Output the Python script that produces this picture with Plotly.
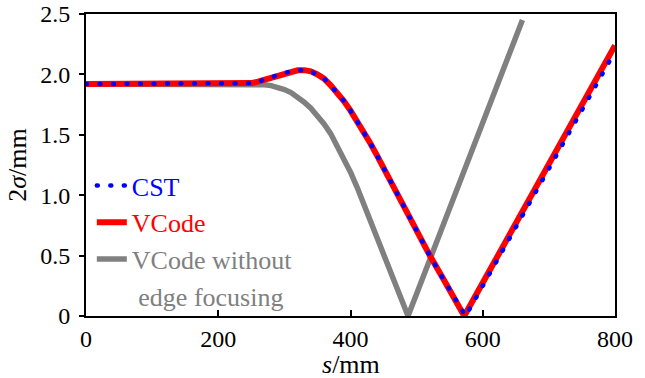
import plotly.graph_objects as go

# ---- data ----
s_vcode = [0, 100, 200, 240, 250, 260, 270, 280, 290, 300, 310, 320, 330, 340, 350, 360, 370, 380, 390,
           400, 410, 420, 430, 440, 450, 460, 470, 480, 500, 520, 540, 560, 572, 600, 700, 800]
v_vcode = [1.92, 1.92, 1.92, 1.922, 1.928, 1.94, 1.955, 1.975, 1.995, 2.012, 2.026, 2.034, 2.035, 2.025, 2.00,
           1.965, 1.91, 1.85, 1.78, 1.70, 1.615, 1.525, 1.43, 1.33, 1.225, 1.115, 1.01, 0.91, 0.70, 0.50,
           0.31, 0.12, 0.0, 0.275, 1.257, 2.24]

s_cst = [0, 100, 200, 240, 250, 260, 270, 280, 290, 300, 310, 320, 330, 340, 350, 360, 370, 380, 390,
         400, 410, 420, 430, 440, 450, 460, 470, 480, 500, 520, 540, 560, 574, 600, 700, 800]
v_cst = [1.92, 1.92, 1.92, 1.922, 1.928, 1.94, 1.955, 1.975, 1.995, 2.012, 2.026, 2.034, 2.035, 2.025, 2.00,
         1.965, 1.91, 1.85, 1.78, 1.70, 1.615, 1.525, 1.43, 1.33, 1.225, 1.115, 1.01, 0.91, 0.70, 0.50,
         0.31, 0.12, 0.0, 0.25, 1.22, 2.19]

s_noedge = [0, 100, 200, 250, 260, 270, 280, 290, 300, 310, 320, 330, 340, 350, 360, 370, 380, 390,
            400, 410, 420, 430, 440, 450, 460, 470, 480, 487, 660]
v_noedge = [1.92, 1.92, 1.92, 1.92, 1.92, 1.915, 1.907, 1.895, 1.875, 1.85, 1.815, 1.77, 1.72, 1.66,
            1.59, 1.51, 1.41, 1.31, 1.19, 1.065, 0.93, 0.79, 0.65, 0.51, 0.375, 0.236, 0.097, 0.0, 2.45]

x_ticks = [0, 200, 400, 600, 800]
y_ticks = [0, 0.5, 1.0, 1.5, 2.0, 2.5]
y_ticktext = ["0", "0.5", "1.0", "1.5", "2.0", "2.5"]
x_title = "<i>s</i>/mm"
y_title = "2<i>σ</i>/mm"

BLUE = "#0000ff"
RED = "#ff0000"
GRAY = "#808080"
FONT = "Liberation Serif, serif"

fig = go.Figure()

fig.add_trace(go.Scatter(
    x=s_noedge, y=v_noedge, mode="lines",
    line=dict(color=GRAY, width=5.5),
    name=f"<span style='color:{GRAY}'>VCode without</span>", legendrank=3))

fig.add_trace(go.Scatter(
    x=s_vcode, y=v_vcode, mode="lines",
    line=dict(color=RED, width=6),
    name=f"<span style='color:{RED}'>VCode</span>", legendrank=2))

fig.add_trace(go.Scatter(
    x=s_cst, y=v_cst, mode="lines",
    line=dict(color=BLUE, width=4.5, dash="1px,12.5px"),
    name=f"<span style='color:{BLUE}'>CST</span>", legendrank=1))

# second legend line (no symbol)
fig.add_trace(go.Scatter(
    x=[None], y=[None], mode="lines",
    line=dict(width=0, color="rgba(0,0,0,0)"),
    name=f"<span style='color:{GRAY}'>\u00a0edge focusing</span>", legendrank=4))

axis_common = dict(
    showgrid=False, zeroline=False, showline=True, linecolor="black", linewidth=2,
    mirror=True, tickcolor="black", tickwidth=1.5, automargin=False,
    tickfont=dict(family=FONT, size=24, color="black"),
)

fig.update_layout(
    width=645, height=378, autosize=False,
    margin=dict(l=86, r=30, t=14, b=62),
    paper_bgcolor="white", plot_bgcolor="white",
    font=dict(family=FONT, color="black"),
    xaxis=dict(range=[0, 800], tickvals=x_ticks, ticks="inside", ticklen=6,
               ticklabelstandoff=0, **axis_common),
    yaxis=dict(range=[0, 2.5], tickvals=y_ticks, ticktext=y_ticktext, ticks="outside", ticklen=5,
               ticklabelstandoff=4,
               title=dict(text=y_title, font=dict(family=FONT, size=26), standoff=6),
               **axis_common),
    yaxis2=dict(range=[0, 2.5], overlaying="y", side="left", tickvals=y_ticks, ticks="inside",
                ticklen=5, tickcolor="black", tickwidth=1.5, showticklabels=False, automargin=False,
                showgrid=False, zeroline=False, showline=False),
    showlegend=True,
    legend=dict(x=0.011, y=0.51, xanchor="left", yanchor="top",
                bgcolor="rgba(0,0,0,0)", borderwidth=0,
                font=dict(family=FONT, size=26), itemwidth=30,
                traceorder="normal"),
    annotations=[dict(text=x_title, xref="paper", yref="paper", x=0.5, y=-0.162,
                      xanchor="center", yanchor="middle", showarrow=False,
                      font=dict(family=FONT, size=26, color="black"))],
)

# page margin off; round caps so the CST dash pattern renders as round dots
post = """
document.body.style.margin='0px';
document.querySelectorAll('path.js-line').forEach(function(p){
  var s = p.style.stroke || '';
  if (s.replace(/\\s/g,'') === 'rgb(0,0,255)') { p.style.strokeLinecap = 'round'; }
});
"""

fig.write_html("out.html", config={"displayModeBar": False}, post_script=post)
